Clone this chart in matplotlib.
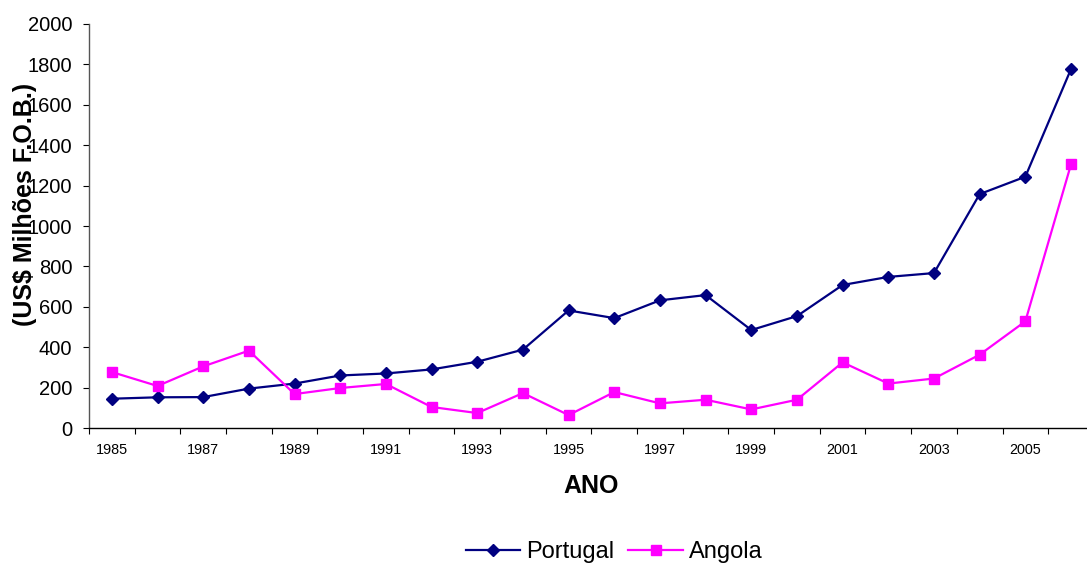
import numpy as np
import matplotlib
matplotlib.use('Agg')
import matplotlib.pyplot as plt

plt.rcParams['font.family'] = ['Liberation Sans', 'DejaVu Sans']

# Exportações (US$ milhões F.O.B.) por ano
anos = list(range(1985, 2007))
portugal = [145, 152, 153, 195, 220, 260, 270, 290, 328, 388, 582, 544, 632, 658,
            485, 554, 708, 748, 767, 1158, 1244, 1777]
angola = [277, 208, 305, 383, 168, 198, 218, 104, 74, 173, 64, 178, 122, 140,
          92, 140, 325, 220, 245, 363, 528, 1305]
yticks = list(range(0, 2001, 200))

fig = plt.figure(figsize=(10.87, 5.66), dpi=100)
ax = fig.add_axes([0.0819, 0.2438, 0.9244, 0.7138])

x = np.arange(len(anos))
ax.plot(x, portugal, color='#000080', lw=1.6, marker='D', ms=6.5, label='Portugal')
ax.plot(x, angola, color='#FF00FF', lw=1.6, marker='s', ms=7.5, label='Angola')

ax.set_xlim(-0.5, len(anos) - 0.5)
ax.set_ylim(0, 2000)
ax.set_yticks(yticks)
ax.set_yticklabels([str(v) for v in yticks], fontsize=14.5)

# rótulos de ano a cada dois anos, marcas entre categorias
ax.set_xticks(x[::2])
ax.set_xticklabels([str(a) for a in anos[::2]], fontsize=10.4)
ax.set_xticks(np.arange(-0.5, len(anos)), minor=True)
ax.tick_params(axis='x', which='major', length=0, pad=11)
ax.tick_params(axis='x', which='minor', length=4, direction='out', width=0.8)
ax.tick_params(axis='y', length=4, direction='out', width=0.8, pad=8)

for s in ['top', 'right']:
    ax.spines[s].set_visible(False)
ax.spines['left'].set_color('#555555')
ax.spines['left'].set_linewidth(1.0)
ax.spines['bottom'].set_linewidth(1.0)

fig.text(0.023, 0.638, '(US$ Milhões F.O.B.)', rotation=90, ha='center', va='center',
         fontsize=18, fontweight='bold')
fig.text(0.544, 0.141, 'ANO', ha='center', va='center', fontsize=18, fontweight='bold')

fig.legend(loc='center', bbox_to_anchor=(0.565, 0.025), ncol=2, frameon=False,
           fontsize=17, handlelength=2.3, handletextpad=0.25, columnspacing=0.6)

fig.savefig('out.png', dpi=100)
